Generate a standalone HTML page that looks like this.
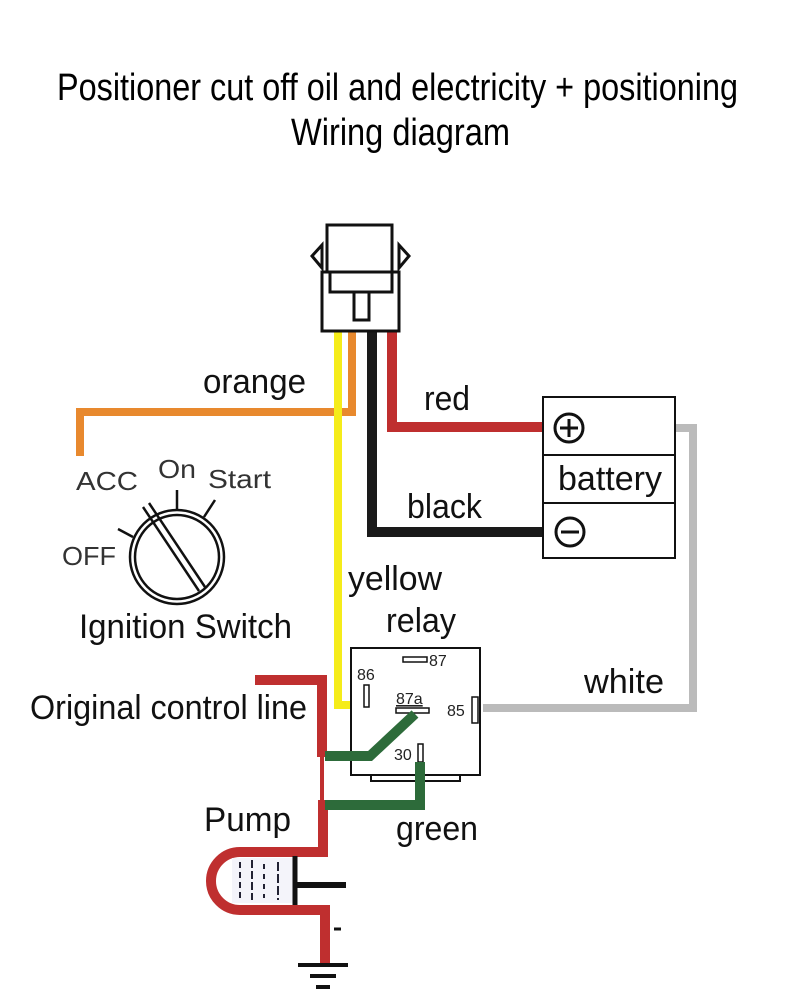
<!DOCTYPE html>
<html><head><style>body{margin:0;background:#fff}svg{display:block}</style></head><body>
<svg width="800" height="1000" viewBox="0 0 800 1000" xmlns="http://www.w3.org/2000/svg" font-family="Liberation Sans, sans-serif">
<rect width="800" height="1000" fill="#fff"/>
<text x="57" y="100" font-size="38" textLength="681" lengthAdjust="spacingAndGlyphs">Positioner cut off oil and electricity + positioning</text>
<text x="291" y="145" font-size="38" textLength="219" lengthAdjust="spacingAndGlyphs">Wiring diagram</text>

<g fill="none" stroke-linejoin="miter">
<polyline points="352,331 352,412 80,412 80,456" stroke="#e8892e" stroke-width="8"/>
<polyline points="338,331 338,705 358,705" stroke="#f5ec1a" stroke-width="8"/>
<polyline points="372,331 372,532 545,532" stroke="#1a1a1a" stroke-width="10"/>
<polyline points="392,331 392,427 545,427" stroke="#bf2f2f" stroke-width="10"/>
<polyline points="675,428 693,428 693,708 483,708" stroke="#bbbbbb" stroke-width="8"/>
<polyline points="255,680 322,680 322,757" stroke="#bf2f2f" stroke-width="10"/>
<line x1="322" y1="757" x2="322" y2="800" stroke="#bf2f2f" stroke-width="4"/>
<path d="M323,800 V852 H240 A29,29 0 0 0 240,910 H325 V965" stroke="#bf2f2f" stroke-width="10"/>
<polyline points="325,756 370,756 415,714" stroke="#2d6b3a" stroke-width="10"/>
<polyline points="420,762 420,805 325,805" stroke="#2d6b3a" stroke-width="10"/>
</g>
<rect x="232" y="858" width="62" height="45" fill="#f4f4fa"/>
<g stroke="#223" stroke-width="2">
<line x1="240" y1="862" x2="240" y2="898" stroke-dasharray="6,4"/>
<line x1="252" y1="860" x2="252" y2="900" stroke-dasharray="8,3"/>
<line x1="264" y1="864" x2="264" y2="898" stroke-dasharray="5,5"/>
<line x1="278" y1="862" x2="278" y2="900" stroke-dasharray="9,3"/>
</g>
<line x1="295" y1="856" x2="295" y2="905" stroke="#111" stroke-width="5"/>
<line x1="295" y1="885" x2="346" y2="885" stroke="#111" stroke-width="6"/>
<line x1="334" y1="929" x2="341" y2="929" stroke="#111" stroke-width="3"/>
<g stroke="#111" stroke-width="4">
<line x1="298" y1="965" x2="348" y2="965"/>
<line x1="310" y1="976" x2="336" y2="976"/>
<line x1="316" y1="987" x2="330" y2="987"/>
</g>

<g fill="#fff" stroke="#111" stroke-width="3">
<polygon points="322,245 312,256 322,268"/>
<polygon points="399,245 409,256 399,268"/>
<rect x="322" y="272" width="77" height="59"/>
<rect x="327" y="225" width="65" height="47"/>
<polyline points="330,272 330,292 392,292 392,272" fill="none"/>
<rect x="354" y="292" width="15" height="28"/>
</g>

<g fill="none" stroke="#111" stroke-width="2">
<rect x="543" y="397" width="132" height="161" fill="#fff"/>
<line x1="543" y1="455" x2="675" y2="455"/>
<line x1="543" y1="503" x2="675" y2="503"/>
<circle cx="569" cy="428" r="14" stroke-width="3"/>
<circle cx="570" cy="532" r="14" stroke-width="3"/>
<line x1="569" y1="419" x2="569" y2="437" stroke-width="3"/>
<line x1="560" y1="428" x2="578" y2="428" stroke-width="3"/>
<line x1="561" y1="532" x2="579" y2="532" stroke-width="3"/>
</g>

<g fill="none" stroke="#111" stroke-width="2">
<rect x="351" y="648" width="129" height="127" fill="#fff"/>
<rect x="371" y="775" width="89" height="6"/>
<rect x="403" y="657" width="24" height="5" stroke-width="1.5"/>
<rect x="364" y="685" width="5" height="22" stroke-width="1.5"/>
<rect x="396" y="708" width="33" height="5" stroke-width="1.5"/>
<rect x="472" y="697" width="6" height="26" stroke-width="1.5"/>
<rect x="418" y="744" width="5" height="18" stroke-width="1.5"/>
</g>
<polyline points="325,756 370,756 415,714" fill="none" stroke="#2d6b3a" stroke-width="10"/>
<line x1="420" y1="762" x2="420" y2="805" stroke="#2d6b3a" stroke-width="10"/>
<g font-size="16" fill="#222">
<text x="429" y="666">87</text>
<text x="357" y="680">86</text>
<text x="396" y="704" text-decoration="underline">87a</text>
<text x="447" y="716">85</text>
<text x="394" y="760">30</text>
</g>

<g fill="none" stroke="#111" stroke-width="2.5">
<circle cx="177" cy="557" r="47"/>
<circle cx="177" cy="557" r="42"/>
<line x1="143" y1="507" x2="199" y2="591"/>
<line x1="149" y1="503" x2="205" y2="587"/>
<line x1="118" y1="529" x2="133" y2="537"/>
<line x1="177" y1="490" x2="177" y2="510"/>
<line x1="215" y1="500" x2="204" y2="517"/>
</g>
<g fill="#333" font-size="26">
<text x="76" y="490" textLength="62" lengthAdjust="spacingAndGlyphs">ACC</text>
<text x="158" y="478" textLength="38" lengthAdjust="spacingAndGlyphs">On</text>
<text x="208" y="488" textLength="63" lengthAdjust="spacingAndGlyphs">Start</text>
<text x="62" y="565" textLength="54" lengthAdjust="spacingAndGlyphs">OFF</text>
</g>

<g font-size="34" fill="#111">
<text x="203" y="393" textLength="103" lengthAdjust="spacingAndGlyphs">orange</text>
<text x="424" y="410" textLength="46" lengthAdjust="spacingAndGlyphs">red</text>
<text x="558" y="490" textLength="104" lengthAdjust="spacingAndGlyphs">battery</text>
<text x="407" y="518" textLength="75" lengthAdjust="spacingAndGlyphs">black</text>
<text x="348" y="590" textLength="94" lengthAdjust="spacingAndGlyphs">yellow</text>
<text x="386" y="632" textLength="70" lengthAdjust="spacingAndGlyphs">relay</text>
<text x="79" y="638" textLength="213" lengthAdjust="spacingAndGlyphs">Ignition Switch</text>
<text x="30" y="719" textLength="277" lengthAdjust="spacingAndGlyphs">Original control line</text>
<text x="584" y="693" textLength="80" lengthAdjust="spacingAndGlyphs">white</text>
<text x="204" y="831" textLength="87" lengthAdjust="spacingAndGlyphs">Pump</text>
<text x="396" y="840" textLength="82" lengthAdjust="spacingAndGlyphs">green</text>
</g>
</svg>
</body></html>
